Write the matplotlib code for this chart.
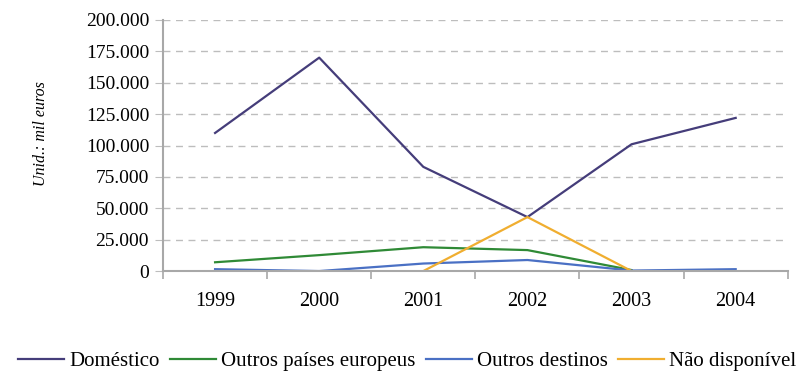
import numpy as np
import matplotlib
matplotlib.use('Agg')
import matplotlib.pyplot as plt
from matplotlib.ticker import FuncFormatter, FixedLocator

# values in mil euros; None = no data for that year
years = ['1999', '2000', '2001', '2002', '2003', '2004']
domestico = [110000, 170000, 83000, 43000, 101000, 122000]
outros_europeus = [7000, 12700, 19000, 16700, 800, None]
outros_destinos = [1500, 0, 6000, 8800, 400, 1500]
nao_disponivel = [None, None, 0, 43000, 0, None]

series = [
    ('Doméstico', domestico, '#453d7a'),
    ('Outros países europeus', outros_europeus, '#2f8a36'),
    ('Outros destinos', outros_destinos, '#4a70c4'),
    ('Não disponível', nao_disponivel, '#f0ae30'),
]

plt.rcParams['font.family'] = ['Liberation Serif', 'DejaVu Serif']

fig = plt.figure(figsize=(8.03, 3.77), dpi=100)
ax = fig.add_axes([0.203, 0.281, 0.778, 0.666])

x = np.arange(len(years))
for label, vals, color in series:
    y = np.array([np.nan if v is None else v for v in vals], dtype=float)
    ax.plot(x, y, color=color, lw=1.6, label=label, zorder=2)

ax.set_xlim(-0.5, len(years) - 0.5)
ax.set_ylim(0, 200000)
ax.set_yticks(np.arange(0, 200001, 25000))
ax.yaxis.set_major_formatter(FuncFormatter(lambda v, p: f'{int(v):,}'.replace(',', '.')))
ax.grid(axis='y', color='#bdbdbd', linestyle=(0, (5, 4)), lw=1.0)
ax.set_axisbelow(True)

ax.set_xticks(x)
ax.set_xticklabels(years)
ax.xaxis.set_minor_locator(FixedLocator(np.arange(-0.5, len(years), 1)))
ax.tick_params(axis='x', which='major', length=0, pad=15, labelsize=14.5)
ax.tick_params(axis='x', which='minor', length=6, color='#a8a8a8', width=1.2)
ax.tick_params(axis='y', length=6, color='#bdbdbd', pad=4, labelsize=14)

for side in ('top', 'right'):
    ax.spines[side].set_visible(False)
for side in ('left', 'bottom'):
    ax.spines[side].set_color('#a8a8a8')
    ax.spines[side].set_linewidth(1.5)
    ax.spines[side].set_zorder(3)

ax.set_ylabel('Unid.: mil euros', fontstyle='italic', fontsize=11.5)
ax.yaxis.set_label_coords(-0.183, 0.546)

fig.legend(loc='center', bbox_to_anchor=(0.507, 0.042), ncol=4, frameon=False,
           fontsize=15, handlelength=2.2, handletextpad=0.25, columnspacing=0.5)

fig.savefig('out.png', dpi=100)
